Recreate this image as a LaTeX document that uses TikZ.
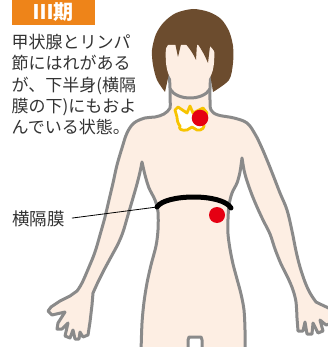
\documentclass[tikz,border=0pt]{standalone}
\usepackage{fontspec}
\usepackage{xcolor}
\usepackage{tikz}
\newfontfamily\jp{Noto Sans CJK JP}
\definecolor{stageorange}{HTML}{EE8419}
\definecolor{skin}{HTML}{FDEEE3}
\definecolor{hairbrown}{HTML}{6C4C2E}
\definecolor{linegray}{HTML}{8A8A8A}
\definecolor{thyroidyellow}{HTML}{F7C400}
\definecolor{spotred}{HTML}{E50012}
\definecolor{textgray}{HTML}{333333}

\begin{document}
\begin{tikzpicture}[
    x=1pt, y=-1pt,
    every node/.style={font=\jp},
    outline/.style={
        draw=linegray,
        line width=3pt,
        line join=round,
        line cap=round
    },
    spot/.style={
        fill=spotred
    },
    note/.style={
        text=textgray,
        inner sep=0pt
    }
]
\useasboundingbox (0,0) rectangle (328,347);
\clip (0,0) rectangle (328,347);

% Body - arms, torso and neck in one outline
\draw[outline, fill=skin] (169,70)
  -- plot[smooth, tension=0.6] coordinates {(169,70) (170,88) (170,100) (170,108) (164,114) (155,117) (145,118) (134,123) (127,133) (122,148) (117,165) (113,183) (109,200) (105,217) (100,235) (95,252) (89,267) (82,283) (77,291)}
  -- (70,296) -- (60,301) -- (51,307) -- (48,311) -- (52,315) -- (65,312) -- (58,323) -- (57,329) -- (62,329) -- (68,323) -- (65,336) -- (70,338) -- (73,330) -- (75,339) -- (79,339) -- (80,332) -- (83,337) -- (88,335) -- (90,322) -- (92,305)
  -- plot[smooth] coordinates {(93,293) (98,282) (104,270) (111,257) (118,244) (123,232) (128,215) (133,198) (137,184) (140,172) (142,162)}
  -- plot[smooth] coordinates {(142,162) (145,175) (149,188) (155,200) (158,212) (158,230) (156,246) (151,265) (147,283) (144,302) (142,323) (141,352)}
  -- (188,352) -- (188,340) -- (189,337) -- (201,337) -- (202,340) -- (202,352)
  -- (245,352)
  -- plot[smooth] coordinates {(245,352) (245,330) (244,310) (241,294) (237,279) (233,264) (230,249) (228,234) (228,219) (229,205) (232,193) (237,183) (240,172) (242,158)}
  -- plot[smooth] coordinates {(242,158) (244,170) (247,181) (252,195) (257,207) (263,220) (270,234) (275,249) (281,264) (288,278) (293,290) (296,302) (297,318)}
  -- (298,331) -- (303,331) -- (305,322) -- (307,334) -- (312,334) -- (313,323) -- (318,333) -- (323,331) -- (320,320) -- (326,325) -- (335,322) -- (335,311) -- (320,304)
  -- plot[smooth, tension=0.6] coordinates {(316,302) (310,293) (305,282) (300,267) (296,251) (292,231) (287,210) (280,193) (273,175) (267,160) (261,146) (255,134) (247,123) (234,118) (218,115) (211,110) (210,100) (210,88) (211,70)}
  -- cycle;

% Head
\fill[hairbrown] plot[smooth] coordinates {(165,92) (157,80) (153,65) (152,50) (156,34) (164,22) (176,13) (193,9) (209,12) (221,19) (229,31) (233,46) (233,63) (229,80) (213,92)}
  -- (208,60) -- (172,60) -- cycle;
\fill[skin] (166,45) .. controls (165,65) and (166,78) .. (178,85)
  .. controls (185,89) and (195,89) .. (202,85)
  .. controls (214,78) and (215,65) .. (214,45) -- cycle;
\draw[outline] (170,89) .. controls (177,101) and (203,101) .. (210,89);
% bangs
\fill[hairbrown] (160,58) -- (165,50) .. controls (168,44) and (171,40) .. (174,38)
  -- (178,57) -- (182,40) .. controls (188,46) and (193,53) .. (196,60)
  -- (197,43) .. controls (202,50) and (205,56) .. (208,63)
  -- (210,46) .. controls (213,49) and (215,52) .. (217,56)
  -- (220,30) -- (160,30) -- cycle;

% Thyroid
\draw[thyroidyellow, fill=white, line width=2.8pt, line join=round]
  (177,117) -- (175,110) -- (178,107) -- (187,113) -- (190,106) -- (193,113) -- (203,108) -- (207,113)
  .. controls (205,118) and (203,121) .. (203,123)
  .. controls (206,127) and (202,131) .. (197,130)
  -- (192,127) -- (187,130)
  .. controls (182,131) and (178,129) .. (180,126)
  .. controls (178,124) and (177,120) .. (177,117) -- cycle;
\fill[spot] (200,118) circle (8.3);

% Diaphragm
\coordinate (diaL) at (157,207);
\coordinate (diaR) at (231,208);
\draw[black, line width=5pt, line cap=round] (diaL) .. controls (165,194) and (222,193) .. (diaR);
\fill[spot] (217,215) circle (8);

% Stage tag
\fill[stageorange] (12,0) rectangle (95,25);
\node[text=white, font=\jp\bfseries\fontsize{20}{20}\selectfont] (stage) at (53.5,12.5) {Ⅲ期};

% Description
\node[note, anchor=north west, align=left, font=\jp\fontsize{17}{21.3}\selectfont] (desc) at (11.5,34)
  {甲状腺とリンパ\\節にはれがある\\が、下半身(横隔\\膜の下)にもおよ\\んでいる状態。};

% Label and pointer
\node[note, anchor=west, font=\jp\fontsize{17.5}{18}\selectfont] (dialabel) at (12,219) {横隔膜};
\draw[black, line width=0.8pt, shorten <=7pt] (dialabel.east) -- (diaL);

\end{tikzpicture}
\end{document}
